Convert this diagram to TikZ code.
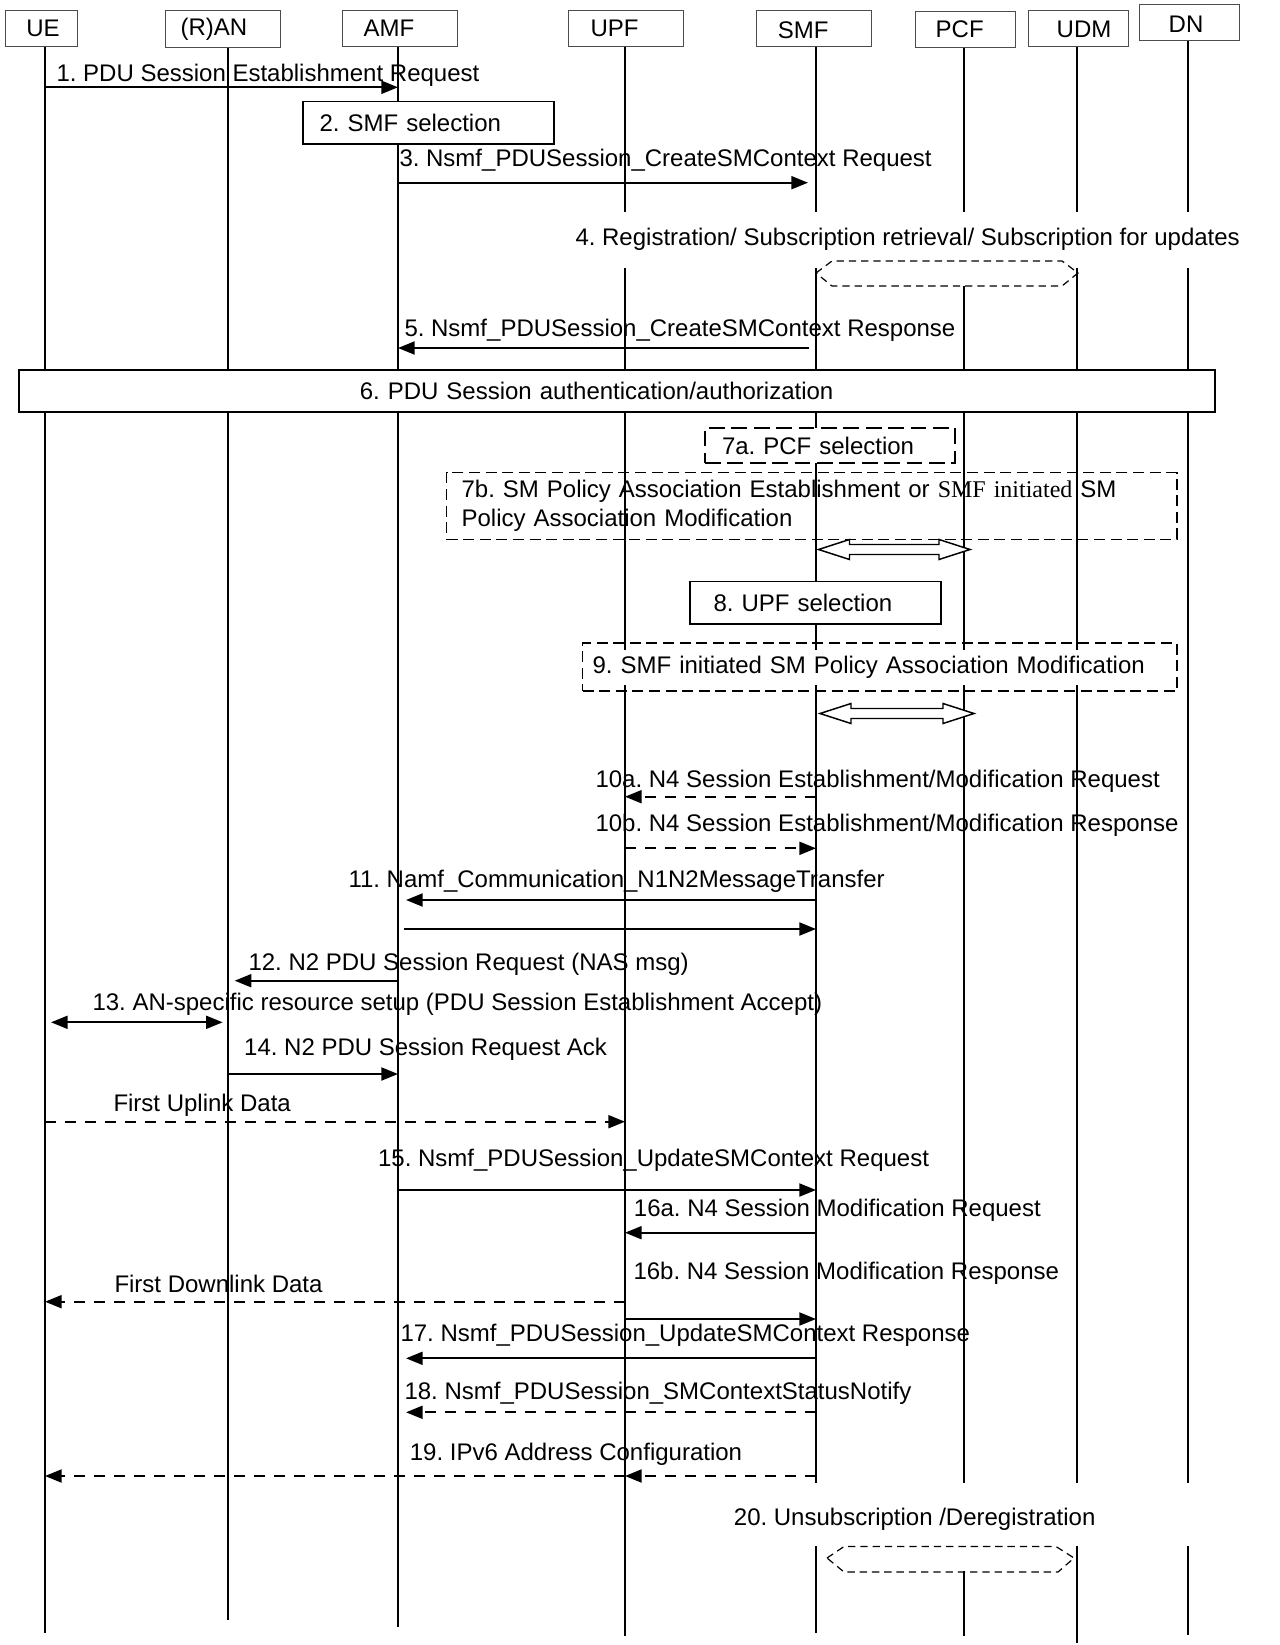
\documentclass[tikz,border=0pt]{standalone}
\usepackage{fontspec}
\setmainfont{Liberation Sans}
\newfontfamily\serifpart{Liberation Serif}
\usetikzlibrary{arrows.meta}
\newcommand{\msgfont}{\fontsize{18}{21.5}\selectfont\frenchspacing}

\tikzset{every picture/.style={line width=0.75pt}}
\tikzset{
  lifeline/.style={line width=1pt},
  headbox/.style={draw=black!70, fill=white, line width=0.75pt, inner sep=0pt},
  headtext/.style={font=\msgfont, inner sep=0pt},
  stepbox/.style={draw, fill=white, font=\msgfont, align=left, inner ysep=0pt},
  dashbox/.style={draw, font=\msgfont, align=left, inner ysep=0pt, line width=0.9pt, dash pattern=on 8.25pt off 4.2pt},
  msg/.style={line width=1.5pt, -{Triangle[length=12.5pt,width=9.75pt]}},
  msgboth/.style={line width=1.5pt, {Triangle[length=12.5pt,width=9.75pt]}-{Triangle[length=12.5pt,width=9.75pt]}},
  dmsg/.style={msg, dash pattern=on 8.5pt off 6.5pt},
  lbl/.style={font=\msgfont, inner sep=0pt, anchor=base west},
  hexdash/.style={line width=0.9pt, dash pattern=on 5.5pt off 3.7pt},
  blockarrow/.style={line width=1.1pt, fill=white},
}

\begin{document}
\begin{tikzpicture}[x=0.75pt,y=0.75pt,yscale=-1,xscale=1]
\useasboundingbox (0,0) rectangle (1279,1645);
\fill[white] (0,0) rectangle (1279,1645);

%Lifeline positions
\coordinate (ue) at (45,47);
\coordinate (ran) at (228,47);
\coordinate (amf) at (398,47);
\coordinate (upf) at (625,47);
\coordinate (smf) at (816,47);
\coordinate (pcf) at (964,47);
\coordinate (udm) at (1077,47);
\coordinate (dn) at (1188,47);

%Message heights
\foreach \m/\y in {m1/87.3, m3/182.7, m5/348, m10a/796.7, m10b/848.3, m11a/900, m11b/929,
  m12/980.7, m13/1022.3, m14/1074, mUL/1121.7, m15/1190, m16a/1232.7, mDL/1301.7,
  m16b/1319, m17/1358.3, m18/1412.3, m19/1476}
  \coordinate (\m) at (0,\y);

%Straight Lines (lifelines)
\foreach \ll/\ya/\yb in {ue/47/1633, ran/48/1620, amf/47/1627,
  upf/47/212, upf/268/650, upf/685/1636,
  smf/47/212, smf/268/650, smf/685/1483, smf/1546/1633,
  pcf/47/212, pcf/286/650, pcf/685/1483, pcf/1571/1636,
  udm/47/212, udm/268/650, udm/685/1483, udm/1546/1643,
  dn/41/212, dn/268/1483, dn/1546/1635}
  \draw[lifeline] (\ll |- 0,\ya) -- (\ll |- 0,\yb);

% Text Node (heads)
\foreach \n/\x/\y/\w/\h/\dx/\dy/\t in {ueHead/41/28.7/54/27/1.5/0/UE,
  ranHead/222.5/29.3/86.25/27.75/-6.4/0/(R)AN,
  amfHead/399.5/28.7/86.25/27/-7.9/0/AMF,
  upfHead/626/28.7/86.25/27/-8.6/0/UPF,
  smfHead/814.2/28.7/86.25/27/-8.2/1.4/SMF,
  pcfHead/965.7/29.2/75.4/27/-4.5/0/PCF,
  udmHead/1078/29/75/27/4.5/0/UDM,
  dnHead/1189/23/75/27/-2.2/0.8/DN}
{
  \node[headbox, minimum width=\w pt, minimum height=\h pt] (\n) at (\x,\y) {};
  \node[headtext] (\n-t) at ([xshift=\dx pt, yshift=\dy pt]\n.center) {\t};
}

%Rect boxes
\node[stepbox, line width=1.1pt, inner xsep=12.45pt, text width=163.35pt, minimum height=31.7pt] (smfSel) at (428.5,122.8) {2. SMF selection};
\node[stepbox, line width=1.5pt, inner xsep=255.75pt, text width=385.5pt, minimum height=31.5pt] (pduAuth) at (616.8,391) {6. PDU Session authentication/authorization};
\node[stepbox, line width=1.3pt, dash pattern=on 11.8pt off 5pt, inner xsep=12.75pt, text width=162pt, minimum height=26.25pt] (pcfSel) at (830,445.5) {7a. PCF selection};
\node[dashbox, inner xsep=11.25pt, text width=525.3pt, minimum height=50pt] (smPolicy) at (811.8,506) {7b. SM Policy Association Establishment or {\serifpart SMF initiated} SM\\Policy Association Modification};
\node[stepbox, line width=1.1pt, inner xsep=17.6pt, text width=153pt, minimum height=31.7pt] (upfSel) at (815.5,602.85) {8. UPF selection};
\node[dashbox, inner xsep=7.5pt, text width=430.8pt, minimum height=36pt] (smModify) at (879.8,667) {9. SMF initiated SM Policy Association Modification};

%Hollow double arrows
\foreach \xa/\len/\yc in {818.5/151.5/549.5, 820/154/713.5}
  \draw[blockarrow] (\xa,\yc) -- ++(31,-10) -- ++(0,5) -- ++({\len-62},0) -- ++(0,-5)
    -- ++(31,10) -- ++(-31,10) -- ++(0,-5) -- ++({62-\len},0) -- ++(0,5) -- cycle;

%Dashed hexagons
\draw[hexdash] (816,273) -- (832,261) -- (1062,261) -- (1078,273) -- (1062,286) -- (832,286) -- cycle;
\draw[hexdash] (827,1558) -- (844,1546.5) -- (1056,1546.5) -- (1074,1558) -- (1058,1572) -- (844,1572) -- cycle;

%Straight Lines (messages)
\draw[msg] (ue |- m1) -- (amf |- m1);
\draw[msg, shorten >=6pt] (amf |- m3) -- (smf |- m3);
\draw[msg, shorten <=5.5pt] (smf |- m5) -- (amf |- m5);
\draw[dmsg] (smf |- m10a) -- (upf |- m10a);
\draw[dmsg] (upf |- m10b) -- (smf |- m10b);
\draw[msg, shorten >=6pt] (smf |- m11a) -- (amf |- m11a);
\draw[msg, shorten <=4.5pt] (amf |- m11b) -- (smf |- m11b);
\draw[msg, shorten >=5pt] (amf |- m12) -- (ran |- m12);
\draw[msgboth, shorten <=4.5pt, shorten >=4pt] (ue |- m13) -- (ran |- m13);
\draw[msg] (ran |- m14) -- (amf |- m14);
\draw[dmsg] (ue |- mUL) -- (upf |- mUL);
\draw[msg] (amf |- m15) -- (smf |- m15);
\draw[msg] (smf |- m16a) -- (upf |- m16a);
\draw[dmsg] (upf |- mDL) -- (ue |- mDL);
\draw[msg] (upf |- m16b) -- (smf |- m16b);
\draw[msg, shorten >=6pt] (smf |- m17) -- (amf |- m17);
\draw[dmsg, shorten >=6pt] (smf |- m18) -- (amf |- m18);
\draw[dmsg] (smf |- m19) -- (upf |- m19);
\draw[dmsg] (upf |- m19) -- (ue |- m19);

% Text Node (labels)
\node[lbl] (l1) at (56,81.7) {1. PDU Session Establishment Request};
\node[lbl] (l3) at (399,166.7) {3. Nsmf\_PDUSession\_CreateSMContext Request};
\node[lbl] (l4) at (575,245) {4. Registration/ Subscription retrieval/ Subscription for updates};
\node[lbl] (l5) at (404,336) {5. Nsmf\_PDUSession\_CreateSMContext Response};
\node[lbl] (l10a) at (595,787.5) {10a. N4 Session Establishment/Modification Request};
\node[lbl] (l10b) at (595,831) {10b. N4 Session Establishment/Modification Response};
\node[lbl] (l11) at (348,887.7) {11. Namf\_Communication\_N1N2MessageTransfer};
\node[lbl] (l12) at (248,970) {12. N2 PDU Session Request (NAS msg)};
\node[lbl] (l13) at (92,1010) {13. AN-specific resource setup (PDU Session Establishment Accept)};
\node[lbl] (l14) at (243.7,1055) {14. N2 PDU Session Request Ack};
\node[lbl] (lUL) at (113,1111.7) {First Uplink Data};
\node[lbl] (l15) at (377.6,1166.4) {15. Nsmf\_PDUSession\_UpdateSMContext Request};
\node[lbl] (l16a) at (633.4,1216.7) {16a. N4 Session Modification Request};
\node[lbl] (l16b) at (633,1279) {16b. N4 Session Modification Response};
\node[lbl] (lDL) at (114,1292.4) {First Downlink Data};
\node[lbl] (l17) at (400,1341) {17. Nsmf\_PDUSession\_UpdateSMContext Response};
\node[lbl] (l18) at (404,1399) {18. Nsmf\_PDUSession\_SMContextStatusNotify};
\node[lbl] (l19) at (409.4,1460) {19. IPv6 Address Configuration};
\node[lbl] (l20) at (733.4,1525) {20. Unsubscription /Deregistration};

\end{tikzpicture}
\end{document}
